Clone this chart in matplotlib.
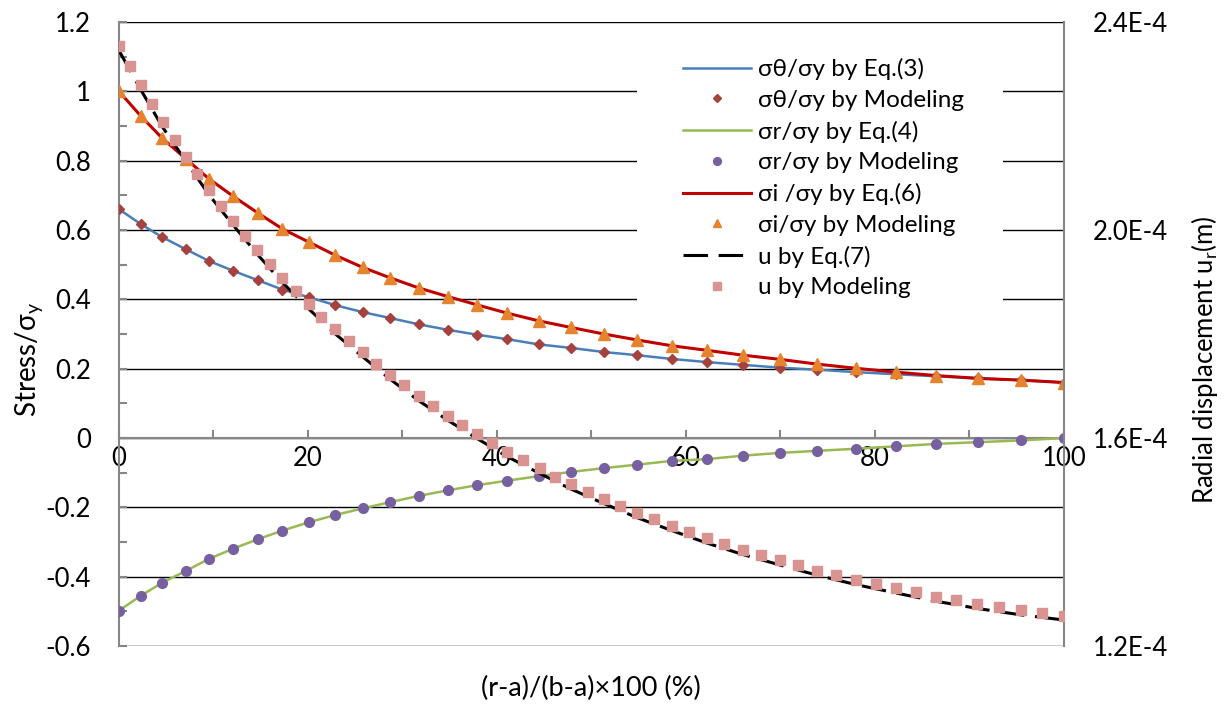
import numpy as np
import matplotlib
matplotlib.use("Agg")
import matplotlib.pyplot as plt
from matplotlib.ticker import MultipleLocator, FuncFormatter
from matplotlib.patches import Rectangle

plt.rcParams['font.family'] = ['Lato', 'DejaVu Sans']
plt.rcParams['mathtext.fontset'] = 'custom'
plt.rcParams['mathtext.rm'] = 'Lato'
plt.rcParams['axes.unicode_minus'] = False

# radial position (r-a)/(b-a)*100 of the stress points
x_pos = [0, 2.3, 4.6, 7.1, 9.5, 12.1, 14.7, 17.3, 20.1, 22.9, 25.8, 28.7, 31.7,
         34.8, 37.9, 41.1, 44.4, 47.8, 51.3, 54.8, 58.5, 62.2, 66.0, 69.9,
         73.9, 78.0, 82.2, 86.5, 90.9, 95.4, 100]

# hoop stress / yield stress
s_theta = [0.660, 0.617, 0.579, 0.544, 0.511, 0.482, 0.455, 0.428, 0.406, 0.383,
           0.363, 0.346, 0.328, 0.312, 0.298, 0.285, 0.270, 0.260, 0.248, 0.239,
           0.228, 0.219, 0.211, 0.203, 0.197, 0.190, 0.184, 0.178, 0.172, 0.167,
           0.160]

# radial stress / yield stress
s_r = [-0.498, -0.455, -0.417, -0.383, -0.349, -0.319, -0.292, -0.267, -0.243,
       -0.222, -0.203, -0.185, -0.167, -0.151, -0.136, -0.123, -0.110, -0.098,
       -0.087, -0.077, -0.066, -0.061, -0.051, -0.043, -0.037, -0.031, -0.024,
       -0.017, -0.012, -0.007, 0.0]

# stress intensity / yield stress
s_i = [1.000, 0.929, 0.864, 0.805, 0.748, 0.697, 0.649, 0.603, 0.565, 0.527,
       0.492, 0.462, 0.433, 0.408, 0.384, 0.360, 0.338, 0.319, 0.300, 0.283,
       0.266, 0.253, 0.239, 0.227, 0.213, 0.201, 0.190, 0.180, 0.172, 0.167,
       0.160]

# radial displacement from Eq.(7), 1e-4 m
u_eq = [2.345, 2.270, 2.198, 2.132, 2.068, 2.009, 1.952, 1.899, 1.848, 1.800,
        1.756, 1.713, 1.672, 1.634, 1.599, 1.564, 1.533, 1.502, 1.474, 1.447,
        1.422, 1.398, 1.376, 1.356, 1.336, 1.318, 1.302, 1.286, 1.272, 1.260,
        1.250]

# radial displacement from the FE model, 1e-4 m
x_fem = [0, 1.2, 2.3, 3.5, 4.7, 5.9, 7.1, 8.3, 9.5, 10.8, 12.1, 13.3, 14.6, 16.0,
         17.3, 18.7, 20.1, 21.4, 22.9, 24.3, 25.8, 27.2, 28.7, 30.2, 31.7, 33.2,
         34.8, 36.3, 37.9, 39.5, 41.1, 42.8, 44.5, 46.1, 47.8, 49.6, 51.3, 53.0,
         54.8, 56.6, 58.5, 60.3, 62.2, 64.0, 66.0, 67.9, 69.9, 71.9, 73.9, 75.9,
         78.0, 80.1, 82.2, 84.3, 86.5, 88.6, 90.8, 93.1, 95.4, 97.7, 100]
u_fem = [2.353, 2.315, 2.279, 2.242, 2.207, 2.174, 2.141, 2.108, 2.077, 2.047,
         2.018, 1.989, 1.961, 1.934, 1.908, 1.883, 1.857, 1.833, 1.809, 1.786,
         1.765, 1.743, 1.722, 1.701, 1.681, 1.661, 1.643, 1.625, 1.608, 1.590,
         1.573, 1.558, 1.542, 1.525, 1.511, 1.496, 1.483, 1.469, 1.456, 1.444,
         1.431, 1.419, 1.407, 1.397, 1.385, 1.375, 1.365, 1.355, 1.345, 1.336,
         1.327, 1.319, 1.311, 1.303, 1.295, 1.289, 1.281, 1.275, 1.269, 1.263,
         1.258]

GREY = '#868686'
FS = 18.5

fig = plt.figure(figsize=(12.25, 7.09), dpi=100)
ax1 = fig.add_axes([0.09714, 0.08886, 0.77143, 0.88011])
ax2 = ax1.twinx()

h1, = ax1.plot(x_pos, s_theta, color='#4A7EBB', lw=1.8, zorder=3)
h2, = ax1.plot(x_pos, s_theta, 'D', color='#A5413E', ms=5.2, ls='none', zorder=4)
h3, = ax1.plot(x_pos, s_r, color='#98B954', lw=1.8, zorder=3)
h4, = ax1.plot(x_pos, s_r, 'o', color='#7760A0', ms=7, ls='none', zorder=4)
h5, = ax1.plot(x_pos, s_i, color='#C00000', lw=2.2, zorder=3)
h6, = ax1.plot(x_pos, s_i, '^', color='#E6832E', ms=8, ls='none', zorder=4)

u_scale = 1e-4
h7, = ax2.plot(x_pos, np.array(u_eq) * u_scale, color='black', lw=2.2,
               dashes=(8, 3.5), zorder=3)
h8, = ax2.plot(x_fem, np.array(u_fem) * u_scale, 's', color='#D99391', ms=6.8,
               ls='none', zorder=4)

# left axis
ax1.set_xlim(0, 100)
ax1.set_ylim(-0.6, 1.2)
ax1.set_axisbelow(True)
ax1.yaxis.set_major_locator(MultipleLocator(0.2))
ax1.yaxis.set_minor_locator(MultipleLocator(0.1))
ax1.yaxis.set_major_formatter(FuncFormatter(lambda v, p: f"{v:.1f}".rstrip('0').rstrip('.') if abs(v) > 1e-9 else '0'))
ax1.grid(axis='y', which='major', color='black', lw=1.0)
ax1.tick_params(axis='y', which='both', direction='in', length=6, width=1.5,
                color=GREY, labelsize=FS, pad=20)

ax1.xaxis.set_major_locator(MultipleLocator(20))
ax1.xaxis.set_minor_locator(MultipleLocator(10))
ax1.tick_params(axis='x', which='both', direction='in', length=6, width=1.5,
                color=GREY, labelsize=FS, pad=6)
ax1.spines['bottom'].set_position(('data', 0))
for s in ['top', 'right']:
    ax1.spines[s].set_visible(False)
for s in ['left', 'bottom']:
    ax1.spines[s].set_color(GREY)
    ax1.spines[s].set_linewidth(1.5)

# right axis
ax2.set_ylim(1.2e-4, 2.4e-4)
ax2.yaxis.set_major_locator(MultipleLocator(0.4e-4))
ax2.yaxis.set_major_formatter(FuncFormatter(lambda v, p: f"{v * 1e4:.1f}E-4"))
ax2.tick_params(axis='y', length=0, labelsize=FS, pad=21)
for s in ['top', 'left', 'bottom']:
    ax2.spines[s].set_visible(False)
ax2.spines['right'].set_color(GREY)
ax2.spines['right'].set_linewidth(1.5)

# legend sits on a white panel that hides the gridlines
ax1.add_patch(Rectangle((0.548, 0.525), 0.387, 0.455, transform=ax1.transAxes,
                        facecolor='white', edgecolor='none', zorder=1))
handles = [h1, h2, h3, h4, h5, h6, h7, h8]
labels = ['σθ/σy by Eq.(3)', 'σθ/σy by Modeling', 'σr/σy by Eq.(4)',
          'σr/σy by Modeling', 'σi /σy by Eq.(6)', 'σi/σy by Modeling',
          'u by Eq.(7)', 'u by Modeling']
ax2.legend(handles, labels, loc='upper left', frameon=False, fontsize=17.5,
           numpoints=1, markerscale=0.8, handlelength=2.8, handletextpad=0.3,
           labelspacing=0.4, borderaxespad=0, borderpad=0,
           bbox_to_anchor=(683 / 1225, 1 - 58 / 709), bbox_transform=fig.transFigure)

fig.text(30 / 1225, 0.5 - 5 / 709, 'Stress/σ$_{\\rm y}$', rotation=90,
         ha='center', va='center', fontsize=20)
fig.text(1205 / 1225, 0.5 - 5 / 709, 'Radial displacement u$_{\\rm r}$(m)',
         rotation=90, ha='center', va='center', fontsize=18.5)
fig.text(591 / 1225, 1 - 688 / 709, '(r-a)/(b-a)×100 (%)', ha='center',
         va='center', fontsize=19.5)

fig.savefig('out.png', dpi=100)
